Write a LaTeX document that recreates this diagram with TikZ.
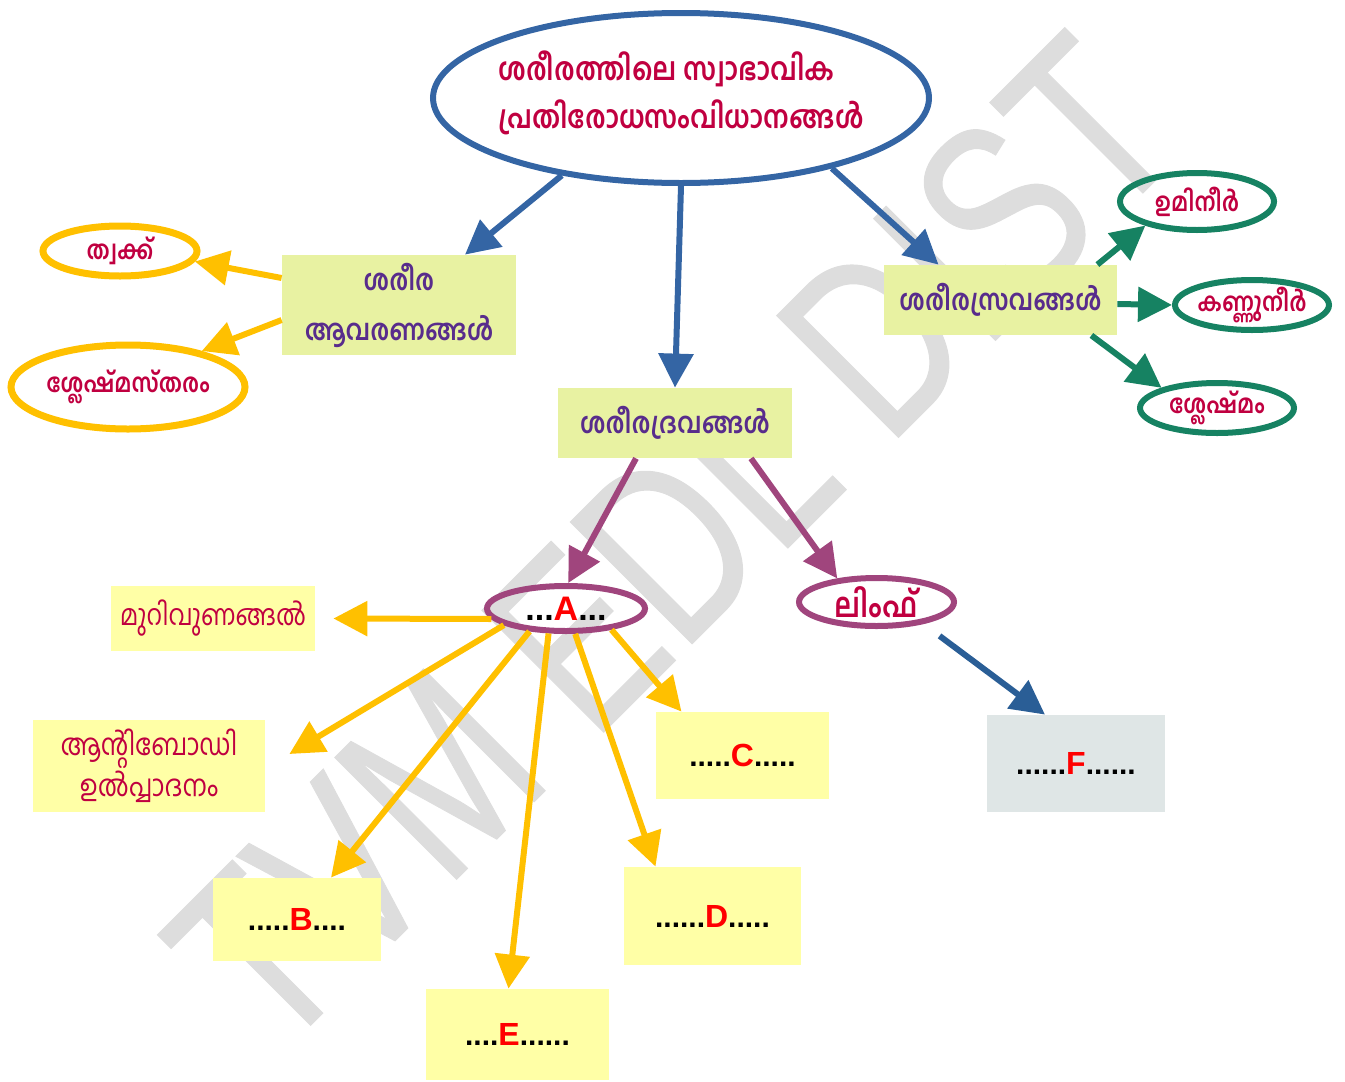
\documentclass[tikz,border=0pt]{standalone}
\usepackage{fontspec}
\setmainfont{Liberation Sans}
\newfontfamily\mlfont[Script=Malayalam,FakeStretch=0.85]{Hind Kochi}
\newfontfamily\markfont[FakeBold=0.5]{Liberation Sans}
\usetikzlibrary{arrows.meta,shapes.geometric}

\definecolor{mainblue}{RGB}{52,101,164}
\definecolor{lymphblue}{RGB}{42,94,150}
\definecolor{mlred}{RGB}{192,0,64}
\definecolor{mlpurple}{RGB}{88,44,140}
\definecolor{boxgreen}{RGB}{232,242,162}
\definecolor{boxyellow}{RGB}{255,255,166}
\definecolor{boxgray}{RGB}{223,230,230}
\definecolor{ovalyellow}{RGB}{255,192,0}
\definecolor{ovalgreen}{RGB}{22,130,98}
\definecolor{ovalmag}{RGB}{160,69,125}
\definecolor{letred}{RGB}{255,0,0}
\definecolor{wmgray}{RGB}{221,221,221}

\tikzset{
	oval/.style={ellipse,draw,line width=3pt,inner sep=-15pt},
	mlbox/.style={rectangle,fill=boxgreen,inner sep=0pt,align=center,text=mlpurple,
		font=\mlfont\bfseries\fontsize{14.5}{25}\selectfont},
	notebox/.style={rectangle,fill=boxyellow,inner sep=0pt,align=center,text=mlred,
		font=\mlfont\fontsize{15}{20.5}\selectfont},
	letbox/.style={rectangle,fill=boxyellow,inner sep=0pt,
		font=\bfseries\fontsize{15}{18}\selectfont},
	smallml/.style={text=mlred,font=\mlfont\bfseries\fontsize{13}{16}\selectfont},
	conn/.style={line width=3pt,-{Triangle[length=17pt,width=17pt]}},
	bluearrow/.style={conn,draw=mainblue,fill=mainblue},
	yellowarrow/.style={conn,draw=ovalyellow,fill=ovalyellow},
	greenarrow/.style={conn,draw=ovalgreen,fill=ovalgreen},
	magarrow/.style={conn,draw=ovalmag,fill=ovalmag},
	wmark/.style={text=wmgray,font=\markfont\fontsize{125}{125}\selectfont,inner sep=0pt}
}
\newcommand{\letr}[1]{{\color{letred}\fontsize{16}{18}\selectfont#1}}

\begin{document}
\begin{tikzpicture}[x=0.5pt,y=-0.5pt]
	\useasboundingbox (0,0) rectangle (1345,1082);
	% watermark
	\node[wmark,rotate=45] (mark) at (672,542) {\scalebox{0.75}[1]{TVM EDL DIST}};

	% top
	\node[oval,draw=mainblue,minimum width=248pt,minimum height=85pt,align=left,text=mlred,
		font=\mlfont\bfseries\fontsize{15.8}{24}\selectfont] (main) at (681,98)
		{ശരീരത്തിലെ സ്വാഭാവിക\\പ്രതിരോധസംവിധാനങ്ങൾ\rule[-8pt]{0pt}{0pt}};

	% three groups
	\node[mlbox,minimum width=117pt,minimum height=50pt] (cover) at (399,305) {ശരീര\\ആവരണങ്ങൾ};
	\node[mlbox,minimum width=117pt,minimum height=35pt] (fluids) at (675,423) {ശരീരദ്രവങ്ങൾ};
	\node[mlbox,minimum width=116.5pt,minimum height=35pt] (secretions) at (1000.5,300) {ശരീരസ്രവങ്ങൾ};

	% leaves
	\node[oval,draw=ovalyellow,line width=3.5pt,minimum width=77pt,minimum height=25pt,smallml] (skin) at (120,251) {ത്വക്ക്};
	\node[oval,draw=ovalyellow,line width=3.5pt,minimum width=117pt,minimum height=42pt,smallml] (mucus) at (128,387) {ശ്ലേഷ്മസ്തരം};
	\node[oval,draw=ovalgreen,minimum width=77pt,minimum height=28.5pt,smallml] (saliva) at (1197,201.5) {ഉമിനീർ};
	\node[oval,draw=ovalgreen,minimum width=77pt,minimum height=25pt,smallml] (tears) at (1252,305) {കണ്ണുനീർ};
	\node[oval,draw=ovalgreen,minimum width=77pt,minimum height=25pt,smallml] (phlegm) at (1217,408) {ശ്ലേഷ്മം};
	\node[oval,draw=ovalmag,minimum width=79pt,minimum height=22.5pt,
		font=\bfseries\fontsize{17}{20}\selectfont] (nodeA) at (566,608.5) {...{\color{letred}A}...};
	\node[oval,draw=ovalmag,minimum width=77.5pt,minimum height=24pt,text=mlred,
		font=\mlfont\bfseries\fontsize{17}{20}\selectfont] (lymph) at (876.5,602) {ലിംഫ്};

	% answer boxes
	\node[notebox,font=\mlfont\fontsize{14.5}{20.5}\selectfont,minimum width=102pt,minimum height=32.5pt] (heal) at (213,618.5) {മുറിവുണങ്ങൽ};
	\node[notebox,minimum width=116pt,minimum height=46pt] (antibody) at (149,766) {ആന്റിബോഡി\\ഉൽപ്പാദനം};
	\node[letbox,minimum width=86.5pt,minimum height=43.5pt] (boxC) at (742.5,755.5) {.....\letr{C}.....};
	\node[letbox,minimum width=88.5pt,minimum height=49pt] (boxD) at (712.5,916) {......\letr{D}.....};
	\node[letbox,minimum width=84pt,minimum height=41.5pt] (boxB) at (297,919.5) {.....\letr{B}....};
	\node[letbox,minimum width=91.5pt,minimum height=45.5pt] (boxE) at (517.5,1034.5) {....\letr{E}......};
	\node[letbox,fill=boxgray,minimum width=89pt,minimum height=48.5pt] (boxF) at (1076,763.5) {......\letr{F}......};

	% arrows
	\draw[bluearrow] (main.213) -- ([xshift=33pt]cover.north);
	\draw[bluearrow] (main.south) -- (fluids.north);
	\draw[bluearrow] (main.335) -- ([xshift=-31pt]secretions.north);

	\draw[yellowarrow] ([yshift=13.5pt]cover.west) -- (skin.-8);
	\draw[yellowarrow] ([yshift=-7.5pt]cover.west) -- (mucus.26);

	\draw[greenarrow] ([xshift=-10pt]secretions.north east) -- (saliva.205);
	\draw[greenarrow] ([yshift=-2pt]secretions.east) -- (tears.west);
	\draw[greenarrow] ([xshift=-13pt]secretions.south east) -- (phlegm.160);

	\draw[magarrow] ([xshift=-19.5pt]fluids.south) -- (nodeA.85);
	\draw[magarrow] ([xshift=38pt]fluids.south) -- (lymph.149);

	\draw[conn,draw=lymphblue,fill=lymphblue,shorten <=10pt] (lymph.-25) -- ([xshift=-15.5pt]boxF.north);

	\draw[yellowarrow] (nodeA.188) -- ([xshift=9pt]heal.east);
	\draw[yellowarrow] (nodeA.195) -- ([xshift=12pt,yshift=6pt]antibody.east);
	\draw[yellowarrow] (nodeA.212) -- ([xshift=17pt]boxB.north);
	\draw[yellowarrow] (nodeA.235) -- ([xshift=-4.5pt]boxE.north);
	\draw[yellowarrow] (nodeA.290) -- ([xshift=-28.5pt]boxD.north);
	\draw[yellowarrow] (nodeA.335) -- ([xshift=-30.5pt]boxC.north);
\end{tikzpicture}
\end{document}
